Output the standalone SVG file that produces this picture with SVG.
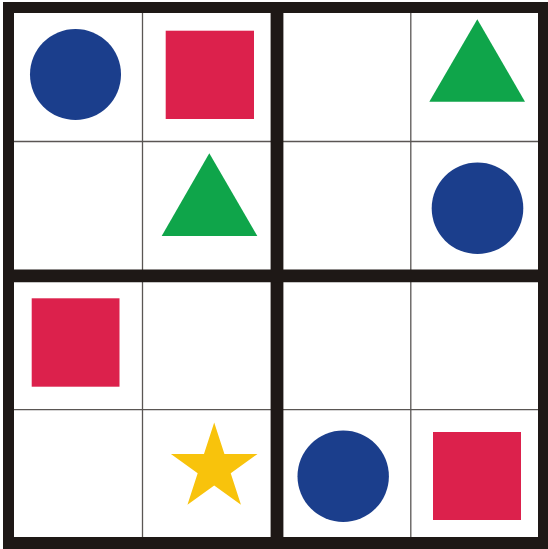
<svg xmlns="http://www.w3.org/2000/svg" width="548" height="549" viewBox="0 0 548 549">
<style>
.thin{stroke:#5a5654;stroke-width:1.3;fill:none}
.thick{stroke:#1e1816;stroke-width:12.8;fill:none}
.blue{fill:#1b3e8c}
.red{fill:#dc214c}
.green{fill:#0fa54a}
.yellow{fill:#f8c30c}
</style>
<rect width="548" height="549" fill="#ffffff"/>
<g id="grid">
<rect x="3" y="2" width="545" height="547" fill="#1e1816"/>
<rect x="14" y="13" width="524" height="524" fill="#ffffff"/>
<line class="thin" x1="142.5" y1="13" x2="142.5" y2="537"/>
<line class="thin" x1="410.8" y1="13" x2="410.8" y2="537"/>
<line class="thin" x1="14" y1="141.5" x2="538" y2="141.5"/>
<line class="thin" x1="14" y1="409.6" x2="538" y2="409.6"/>
<line class="thick" x1="277" y1="13" x2="277" y2="537"/>
<line class="thick" x1="14" y1="275.8" x2="538" y2="275.8"/>
</g>
<g id="circle-r1c1"><circle class="blue" cx="75.5" cy="74.5" r="45.5"/></g>
<g id="square-r1c2"><rect class="red" x="165.7" y="30.7" width="88.3" height="88.3"/></g>
<g id="triangle-r1c4"><polygon class="green" points="477.3,19.3 525,101.7 429.3,101.7"/></g>
<g id="triangle-r2c2"><polygon class="green" points="209.3,153.3 257.3,236 161.7,236"/></g>
<g id="circle-r2c4"><circle class="blue" cx="477.5" cy="208.3" r="45.8"/></g>
<g id="square-r3c1"><rect class="red" x="31.7" y="298.3" width="87.8" height="88.4"/></g>
<g id="star-r4c2"><polygon class="yellow" points="214.2,422.5 224.42,453.94 257.5,453.94 230.73,473.37 240.95,504.8 214.2,485.38 187.45,504.8 197.67,473.37 170.9,453.94 203.98,453.94"/></g>
<g id="circle-r4c3"><circle class="blue" cx="343.2" cy="476.3" r="45.7"/></g>
<g id="square-r4c4"><rect class="red" x="433" y="432" width="88" height="88"/></g>
</svg>
